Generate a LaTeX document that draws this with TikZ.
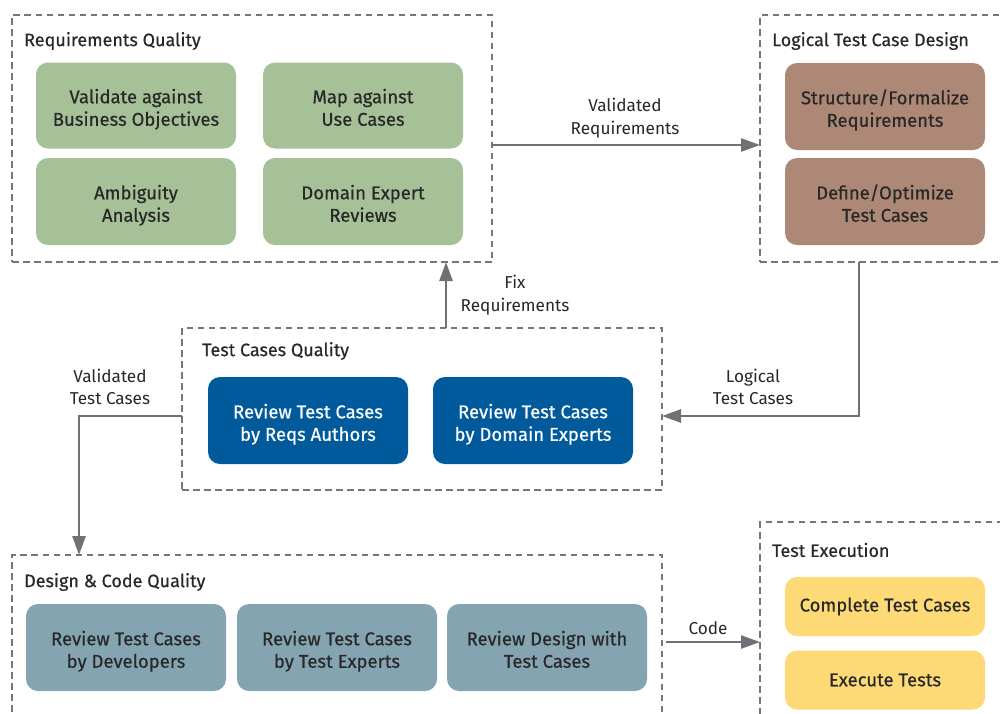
\documentclass[tikz,border=0pt]{standalone}
\usepackage{fontspec}
\setmainfont{Fira Sans}
\newfontfamily\heavier{Fira Sans}[FakeBold=0.5]
\usetikzlibrary{arrows.meta}
\definecolor{frame}{RGB}{118,118,122}
\definecolor{wire}{RGB}{112,113,118}
\definecolor{ink}{RGB}{40,40,40}
\definecolor{sage}{RGB}{166,192,151}
\definecolor{clay}{RGB}{174,136,118}
\definecolor{navy}{RGB}{0,90,155}
\definecolor{slate}{RGB}{133,164,178}
\definecolor{butter}{RGB}{253,218,118}
\tikzset{
  x=1pt, y=-1pt,
  group/.style={draw=frame, line width=2.4pt, dash pattern=on 6.5pt off 4.5pt,
    rectangle, anchor=north west, inner sep=0pt, outer sep=0pt},
  grouptitle/.style={anchor=west, text=ink, inner sep=0pt,
    font=\heavier\fontsize{18}{22}\selectfont},
  task/.style={rectangle, rounded corners=12pt, minimum width=200pt,
    text=ink, align=center, inner sep=0pt, outer sep=0pt,
    font=\heavier\fontsize{18.5}{22.5}\selectfont},
  twoline/.style={text height=40.5pt, text depth=0pt},
  flowlabel/.style={align=center, text=ink, font=\fontsize{17.2}{22.5}\selectfont},
  arr/.style={draw=wire, line width=2.5pt, -{Triangle[length=19pt,width=13pt]}},
}
\begin{document}
\begin{tikzpicture}
\clip (0,0) rectangle (1000,713);
\fill[white] (0,0) rectangle (1000,713);

% Requirements Quality
\node[group, minimum width=480pt, minimum height=247pt] (rq) at (12,15) {};
\node[grouptitle] (rqt) at (24,41) {Requirements Quality};
\node[task, twoline, fill=sage, minimum height=86pt] (r1) at (136,105.5) {Validate against\\Business Objectives};
\node[task, twoline, fill=sage, minimum height=86pt] (r2) at (363,105.5) {Map against\\Use Cases};
\node[task, twoline, fill=sage, minimum height=87pt] (r3) at (136,201.5) {Ambiguity\\Analysis};
\node[task, twoline, fill=sage, minimum height=87pt] (r4) at (363,201.5) {Domain Expert\\Reviews};

% Logical Test Case Design
\node[group, minimum width=260pt, minimum height=247pt] (ltd) at (760,15) {};
\node[grouptitle] (ltdt) at (772,41) {Logical Test Case Design};
\node[task, twoline, fill=clay, minimum height=87pt] (l1) at (885,106.5) {Structure/Formalize\\Requirements};
\node[task, twoline, fill=clay, minimum height=87pt] (l2) at (885,201.5) {Define/Optimize\\Test Cases};

% Test Cases Quality
\node[group, minimum width=480pt, minimum height=162pt] (tcq) at (182,328) {};
\node[grouptitle] (tcqt) at (202,351) {Test Cases Quality};
\node[task, twoline, fill=navy, text=white, minimum height=87pt] (t1) at (308,420.5) {Review Test Cases\\by Reqs Authors};
\node[task, twoline, fill=navy, text=white, minimum height=87pt] (t2) at (533,420.5) {Review Test Cases\\by Domain Experts};

% Design & Code Quality
\node[group, minimum width=650pt, minimum height=200pt] (dcq) at (12,555) {};
\node[grouptitle] (dcqt) at (24,582) {Design \& Code Quality};
\node[task, twoline, fill=slate, minimum height=87pt] (d1) at (126,647.5) {Review Test Cases\\by Developers};
\node[task, twoline, fill=slate, minimum height=87pt] (d2) at (337,647.5) {Review Test Cases\\by Test Experts};
\node[task, twoline, fill=slate, minimum height=87pt] (d3) at (547,647.5) {Review Design with\\Test Cases};

% Test Execution
\node[group, minimum width=260pt, minimum height=240pt] (te) at (760,522) {};
\node[grouptitle] (tet) at (772,550) {Test Execution};
\node[task, fill=butter, minimum height=59pt] (e1) at (885,606.5) {Complete Test Cases};
\node[task, fill=butter, minimum height=59pt] (e2) at (885,680) {Execute Tests};

% Connectors
\coordinate (vr) at (0,145);
\draw[arr] (rq.east |- vr) -- (ltd.west |- vr);
\node[flowlabel] (vrl) at (625,118) {Validated\\Requirements};

\coordinate (ltc) at (859,416);
\draw[arr] (ltd.south -| ltc) |- (tcq.east |- ltc);
\node[flowlabel] (ltcl) at (753,387) {Logical\\Test Cases};

\coordinate (fx) at (446,0);
\draw[arr] (tcq.north -| fx) -- (rq.south -| fx);
\node[flowlabel] (fxl) at (515,295) {Fix\\Requirements};

\coordinate (vtc) at (79,416);
\draw[arr] (tcq.west |- vtc) -| (dcq.north -| vtc);
\node[flowlabel] (vtcl) at (110,387) {Validated\\Test Cases};

\coordinate (cd) at (666,642);
\draw[arr] (cd) -- (te.west |- cd);
\node[flowlabel] (cdl) at (708,628) {Code};
\end{tikzpicture}
\end{document}
